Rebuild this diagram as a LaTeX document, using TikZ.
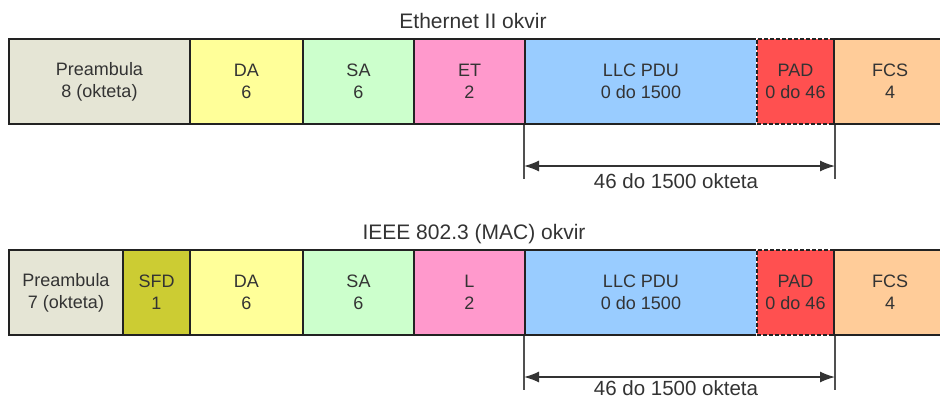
\documentclass[tikz,border=0pt]{standalone}
\usepackage{fontspec}
\setmainfont{Liberation Sans}
\usetikzlibrary{arrows.meta,calc}

\definecolor{cPre}{HTML}{E5E5D5}
\definecolor{cSfd}{HTML}{CCCC33}
\definecolor{cDa}{HTML}{FFFF99}
\definecolor{cSa}{HTML}{CCFFCC}
\definecolor{cEt}{HTML}{FF99CC}
\definecolor{cLlc}{HTML}{99CCFF}
\definecolor{cPad}{HTML}{FF5050}
\definecolor{cFcs}{HTML}{FFCC99}
\definecolor{edge}{HTML}{222222}
\definecolor{txt}{HTML}{333333}
\definecolor{dimc}{HTML}{505050}

\tikzset{
  fld/.style={draw=edge, line width=2pt, minimum height=85pt, inner sep=0pt,
    anchor=north west, align=center, text=txt,
    font=\fontsize{18}{22}\selectfont},
  padfld/.style={fld, dashed, dash pattern=on 4pt off 2pt,
    preaction={draw=white, solid, line width=2pt}},
  title/.style={text=txt, font=\fontsize{21}{24}\selectfont, anchor=base},
  dimline/.style={draw=dimc, line width=1.4pt},
  dimarrow/.style={draw=black!80, line width=1.4pt,
    {Latex[length=15pt,width=11pt]}-{Latex[length=15pt,width=11pt]}},
  dimlabel/.style={text=txt, font=\fontsize{20.5}{24}\selectfont, anchor=base}
}

\begin{document}
\begin{tikzpicture}[x=1pt,y=-1pt]
\useasboundingbox (0,0) rectangle (940,400);
\clip (0,0) rectangle (940,400);

% ---- Ethernet II frame ----
\node[title] (t1) at (473,28) {Ethernet II okvir};
\node[fld, fill=cPre, minimum width=181pt] (pre1) at (8,38) {Preambula\\8 (okteta)};
\node[fld, fill=cDa,  minimum width=113pt] (da1)  at (189,38) {DA\\6};
\node[fld, fill=cSa,  minimum width=111pt] (sa1)  at (302,38) {SA\\6};
\node[fld, fill=cEt,  minimum width=111pt] (et1)  at (413,38) {ET\\2};
\node[fld, fill=cLlc, minimum width=232pt] (llc1) at (524,38) {LLC PDU\\0 do 1500};
\node[padfld, fill=cPad, minimum width=77pt] (pad1) at (756,38) {PAD\\0 do 46};
\node[fld, fill=cFcs, minimum width=112pt] (fcs1) at (833,38) {FCS\\4};

\coordinate (la1) at ($(llc1.south west)+(0,54)$);
\coordinate (lb1) at ($(pad1.south east)+(0,54)$);
\coordinate (aa1) at ($(llc1.south west)+(0,41)$);
\coordinate (ab1) at ($(pad1.south east)+(0,41)$);
\draw[dimline] (llc1.south west) -- (la1);
\draw[dimline] (pad1.south east) -- (lb1);
\draw[dimarrow] (aa1) -- (ab1);
\node[dimlabel] (n1) at (676,188) {46 do 1500 okteta};

% ---- IEEE 802.3 frame ----
\node[title] (t2) at (474,239) {IEEE 802.3 (MAC) okvir};
\node[fld, fill=cPre, minimum width=114pt] (pre2) at (8,249) {Preambula\\7 (okteta)};
\node[fld, fill=cSfd, minimum width=67pt]  (sfd2) at (122,249) {SFD\\1};
\node[fld, fill=cDa,  minimum width=113pt] (da2)  at (189,249) {DA\\6};
\node[fld, fill=cSa,  minimum width=111pt] (sa2)  at (302,249) {SA\\6};
\node[fld, fill=cEt,  minimum width=111pt] (l2)   at (413,249) {L\\2};
\node[fld, fill=cLlc, minimum width=232pt] (llc2) at (524,249) {LLC PDU\\0 do 1500};
\node[padfld, fill=cPad, minimum width=77pt] (pad2) at (756,249) {PAD\\0 do 46};
\node[fld, fill=cFcs, minimum width=112pt] (fcs2) at (833,249) {FCS\\4};

\coordinate (la2) at ($(llc2.south west)+(0,54)$);
\coordinate (lb2) at ($(pad2.south east)+(0,54)$);
\coordinate (aa2) at ($(llc2.south west)+(0,41)$);
\coordinate (ab2) at ($(pad2.south east)+(0,41)$);
\draw[dimline] (llc2.south west) -- (la2);
\draw[dimline] (pad2.south east) -- (lb2);
\draw[dimarrow] (aa2) -- (ab2);
\node[dimlabel] (n2) at (676,395.5) {46 do 1500 okteta};
\end{tikzpicture}
\end{document}
